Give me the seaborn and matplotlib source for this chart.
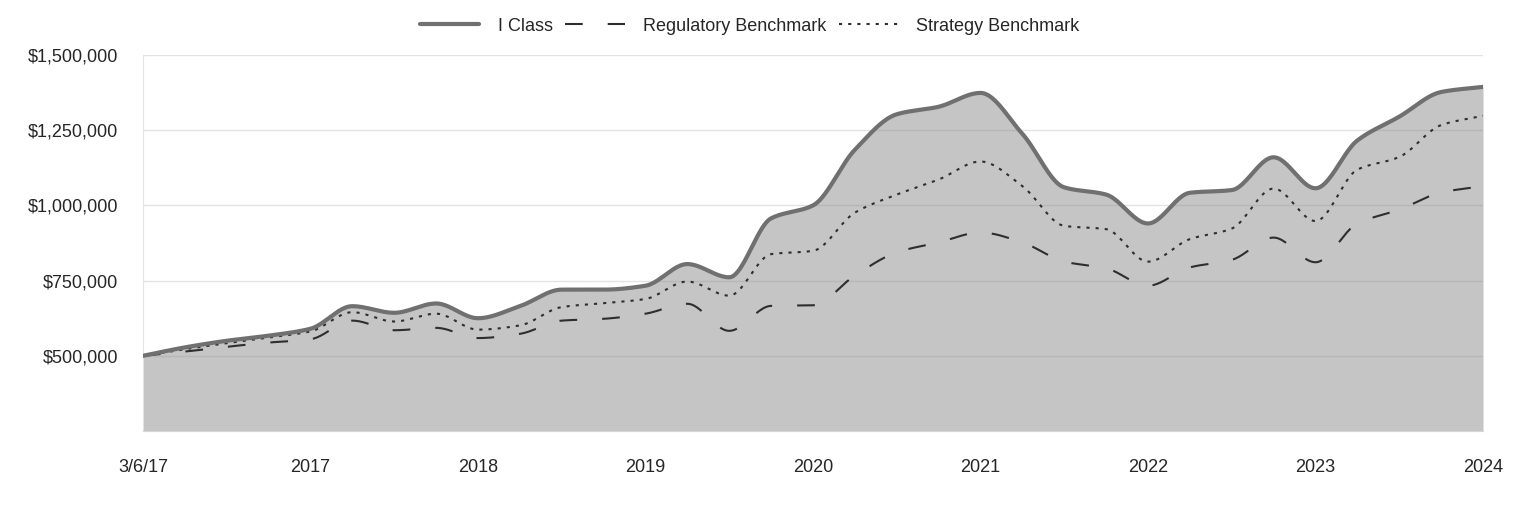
import numpy as np
import pandas as pd
import matplotlib
matplotlib.use("Agg")
import matplotlib.pyplot as plt
from matplotlib.ticker import FuncFormatter
import seaborn as sns

# quarterly growth of $500,000
tick_labels = ["3/6/17", "2017", "2018", "2019", "2020", "2021", "2022", "2023", "2024"]
i_class = [500, 528, 550, 567, 590, 665, 643, 674, 625, 665, 720, 720, 733, 805, 761, 957,
           1000, 1185, 1303, 1328, 1374, 1238, 1060, 1036, 940, 1042, 1051, 1160, 1057, 1216,
           1295, 1377, 1394]
regulatory = [500, 514, 530, 544, 555, 617, 585, 593, 559, 573, 617, 623, 640, 673, 583, 666,
              668, 767, 844, 877, 910, 877, 813, 791, 733, 794, 819, 893, 811, 940,
              986, 1043, 1064]
strategy = [500, 522, 542, 561, 581, 645, 614, 640, 587, 601, 662, 675, 689, 747, 700, 838,
            849, 976, 1036, 1086, 1146, 1064, 932, 921, 813, 888, 923, 1056, 948, 1119,
            1161, 1267, 1298]

quarters = np.arange(len(i_class))
df = pd.DataFrame({"q": quarters,
                   "I Class": np.array(i_class) * 1000,
                   "Regulatory Benchmark": np.array(regulatory) * 1000,
                   "Strategy Benchmark": np.array(strategy) * 1000})


def smooth(x, y, n=24):
    # monotone cubic curve through the points (like d3 curveMonotoneX)
    x = np.asarray(x, float)
    y = np.asarray(y, float)
    h = np.diff(x)
    d = np.diff(y) / h
    m = np.zeros_like(y)
    m[0], m[-1] = d[0], d[-1]
    for k in range(1, len(y) - 1):
        if d[k - 1] * d[k] > 0:
            m[k] = 2 / (1 / d[k - 1] + 1 / d[k])
    xs, ys = [], []
    t = np.linspace(0, 1, n, endpoint=False)
    for k in range(len(x) - 1):
        h00 = 2 * t**3 - 3 * t**2 + 1
        h10 = t**3 - 2 * t**2 + t
        h01 = -2 * t**3 + 3 * t**2
        h11 = t**3 - t**2
        xs.append(x[k] + t * h[k])
        ys.append(h00 * y[k] + h10 * h[k] * m[k] + h01 * y[k + 1] + h11 * h[k] * m[k + 1])
    xs.append([x[-1]])
    ys.append([y[-1]])
    return np.concatenate(xs), np.concatenate(ys)


sns.set_style("white")
plt.rcParams["font.family"] = ["Liberation Sans", "DejaVu Sans"]

fig = plt.figure(figsize=(15.24, 5.16), dpi=100)
ax = fig.add_axes([0.0938, 0.1647, 0.8793, 0.7287])

ymin = 250000
xi, yi = smooth(df["q"], df["I Class"])
ax.fill_between(xi, yi, ymin, color="#8d8d8d", alpha=0.5, linewidth=0, zorder=1)

xr, yr = smooth(df["q"], df["Regulatory Benchmark"])
sns.lineplot(x=xr, y=yr, ax=ax, color="#2e2e2e", linewidth=1.5,
             linestyle=(0, (8.5, 12)), label="Regulatory Benchmark", zorder=3)
xs_, ys_ = smooth(df["q"], df["Strategy Benchmark"])
sns.lineplot(x=xs_, y=ys_, ax=ax, color="#2e2e2e", linewidth=1.5,
             linestyle=(0, (1.5, 2.9)), label="Strategy Benchmark", zorder=3)
sns.lineplot(x=xi, y=yi, ax=ax, color="#707070", linewidth=3,
             label="I Class", zorder=4)

ax.set_xlim(0, quarters[-1])
ax.set_ylim(ymin, 1500000)
ax.set_xticks(quarters[::4])
ax.set_xticklabels(tick_labels)
ax.set_yticks([500000, 750000, 1000000, 1250000, 1500000])
ax.yaxis.set_major_formatter(FuncFormatter(lambda v, _: f"${v:,.0f}"))
ax.set_xlabel("")
ax.set_ylabel("")

ax.grid(axis="y", color="#e3e3e3", linewidth=1.0, zorder=0)
ax.grid(axis="x", visible=False)
ax.set_axisbelow(True)
for s in ["top", "right"]:
    ax.spines[s].set_visible(False)
ax.spines["left"].set_color("#e3e3e3")
ax.spines["bottom"].set_color("#d6d6d6")
ax.tick_params(axis="x", length=6, width=1, color="#e3e3e3", pad=14, labelsize=13)
ax.tick_params(axis="y", length=0, pad=18, labelsize=13)

handles, labels = ax.get_legend_handles_labels()
if ax.get_legend() is not None:
    ax.get_legend().remove()
order = [labels.index(n) for n in ["I Class", "Regulatory Benchmark", "Strategy Benchmark"]]
fig.legend([handles[k] for k in order], [labels[k] for k in order],
           loc="center", bbox_to_anchor=(0.492, 0.949), ncol=3, frameon=False,
           fontsize=13, handlelength=3.3, handletextpad=1.0, columnspacing=0.7)

fig.savefig("out.png", dpi=100)
